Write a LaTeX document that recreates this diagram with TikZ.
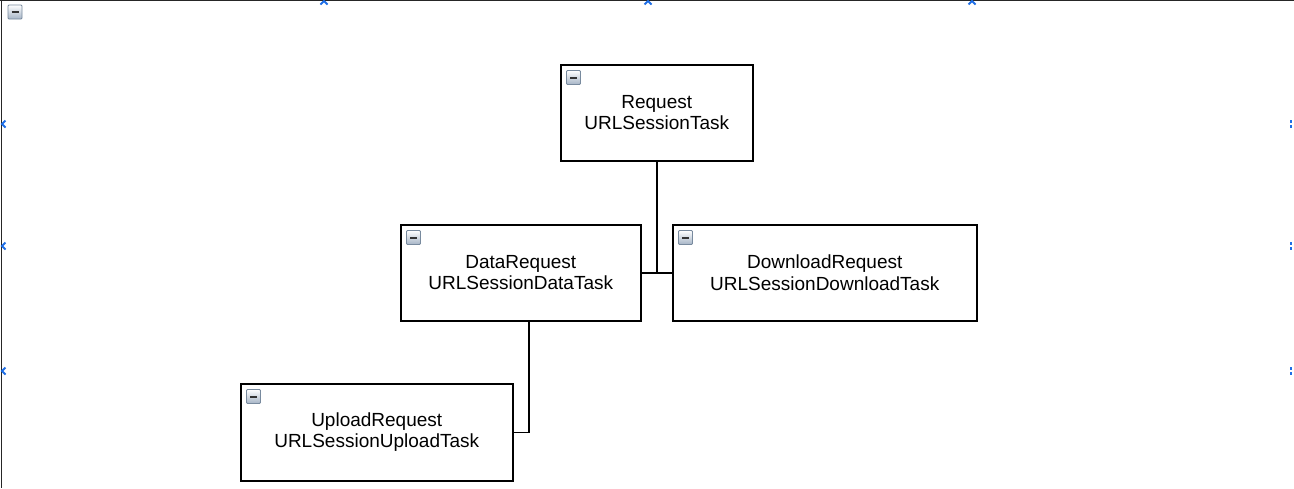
\documentclass[tikz,border=0pt]{standalone}
\usepackage{fontspec}
\setmainfont{Liberation Sans}
\begin{document}
\begin{tikzpicture}[x=1pt,y=-1pt,
  box/.style={draw=black, line width=1.5pt, fill=white, anchor=north west, inner sep=0pt,
    align=center, font=\fontsize{19}{21.5}\selectfont},
  conn/.style={draw=black, line width=1.5pt},
  frameline/.style={draw=black!85, line width=1.4pt},
  marker/.style={draw={rgb,255:red,30;green,110;blue,230}, line width=1.8pt},
  icon/.pic={
    \shade[top color=white, bottom color={rgb,255:red,165;green,180;blue,198}, draw={rgb,255:red,120;green,138;blue,158}, line width=0.9pt, rounded corners=1pt] (0,0) rectangle (14,14);
    \draw[line width=2pt, black!80] (3.5,7) -- (10.5,7);
  }]
\useasboundingbox (0,0) rectangle (1294,488);
\fill[white] (0,0) rectangle (1294,488);
% frame lines
\draw[frameline] (0,0.7) -- (1294,0.7);
\draw[frameline] (1.5,0) -- (1.5,488);
% page markers
\foreach \mx in {324,648,972} {\draw[marker] (\mx-3.5,4.5) -- (\mx,1) -- (\mx+3.5,4.5);}
\foreach \my in {124,246,371} {\draw[marker] (5.5,\my-3.5) -- (2,\my) -- (5.5,\my+3.5);}
\foreach \my in {124,246,371} {\draw[marker] (1291,\my-4) -- (1291,\my-1.5); \draw[marker] (1291,\my+1) -- (1291,\my+3.5);}
% corner icon
\pic at (8,5) {icon};
% nodes
\node[box, minimum width=192pt, minimum height=96pt] (req) at (560,64) {Request\\URLSessionTask};
\node[box, minimum width=240pt, minimum height=96pt] (dr) at (400,224) {DataRequest\\URLSessionDataTask};
\node[box, minimum width=304pt, minimum height=96pt] (dl) at (672,224) {DownloadRequest\\URLSessionDownloadTask};
\node[box, minimum width=272pt, minimum height=97pt] (up) at (240,383) {UploadRequest\\URLSessionUploadTask};
% icons in boxes
\pic at ([xshift=6.5pt,yshift=-6.5pt]req.north west) {icon};
\pic at ([xshift=6.5pt,yshift=-6.5pt]dr.north west) {icon};
\pic at ([xshift=6.5pt,yshift=-6.5pt]dl.north west) {icon};
\pic at ([xshift=6.5pt,yshift=-6.5pt]up.north west) {icon};
% connectors
\coordinate (j) at (req.south |- dr.east);
\draw[conn] (req.south) -- (j);
\draw[conn] (dr.east) -- (dl.west);
\draw[conn] ([xshift=8pt]dr.south) |- (up.east);
\end{tikzpicture}
\end{document}
